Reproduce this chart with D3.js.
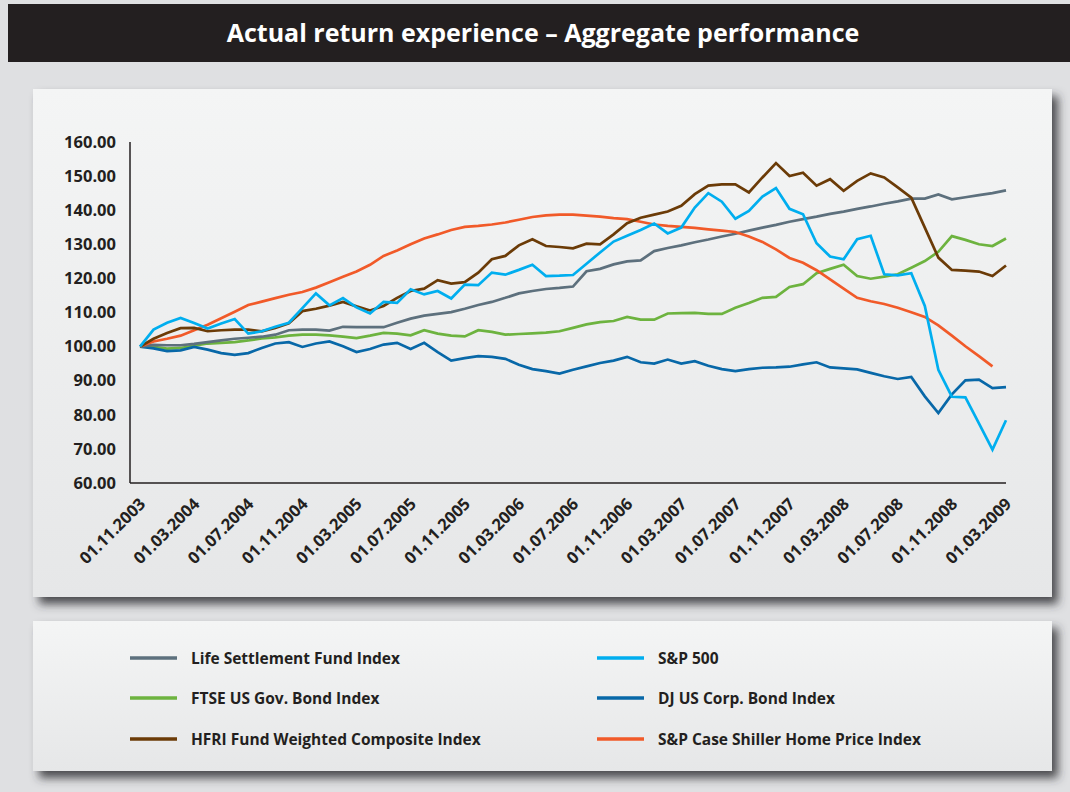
<!DOCTYPE html>
<html>
<head>
<meta charset="utf-8">
<script src="https://cdn.jsdelivr.net/npm/d3@7"></script>
<style>
  html, body { margin: 0; padding: 0; background: #dedfe1; }
  svg { display: block; font-family: "Open Sans", sans-serif; }
</style>
</head>
<body>
<svg id="chart" width="1070" height="792"></svg>
<script>
// monthly index values, 01.11.2003 .. 01.03.2009
const lifeSettlement = [100,100.5,100.4,100.4,100.8,101.3,101.8,102.3,102.6,102.9,
  103.5,104.8,105,105,104.7,105.8,105.7,105.7,105.7,107,
  108.2,109.1,109.6,110.1,111.1,112.2,113.1,114.3,115.6,116.3,
  116.9,117.2,117.6,122.1,122.8,124.1,125,125.3,128,128.9,
  129.7,130.6,131.4,132.3,133.1,134,134.9,135.7,136.6,137.4,
  138.1,138.9,139.6,140.4,141.1,141.9,142.6,143.4,143.4,144.6,
  143.2,143.8,144.4,145,145.8];
const sp500 = [100,105,107,108.4,106.9,105.3,106.8,108.1,103.8,104.5,
  105.8,107,111.3,115.6,112.1,114.2,111.5,109.7,113.1,112.8,
  116.8,115.3,116.3,114.1,118.2,118,121.7,121.1,122.5,124,
  120.7,120.8,121,124.3,127.6,130.8,132.5,134.2,136.1,133.2,
  134.9,140.8,145,142.5,137.5,139.8,144,146.5,140.4,138.8,
  130.3,126.4,125.6,131.5,132.5,121.2,120.9,121.5,111.9,93.2,
  85.3,85.1,77.5,69.8,78.4];
const ftseGov = [100,99.9,99.4,99.6,100.3,100.9,101.1,101.3,101.8,102.4,
  102.7,103.2,103.5,103.5,103.3,102.9,102.5,103.2,104,103.8,
  103.3,104.8,103.8,103.2,103,104.8,104.3,103.5,103.7,103.9,
  104.1,104.5,105.5,106.5,107.2,107.5,108.7,107.9,107.9,109.7,
  109.8,109.9,109.6,109.6,111.4,112.8,114.3,114.6,117.5,118.3,
  121.5,122.8,124,120.7,119.9,120.5,121.2,123.1,125.1,127.8,
  132.4,131.3,130,129.5,131.7];
const djCorp = [100,99.5,98.7,98.9,99.9,99.1,98.1,97.6,98.1,99.6,
  100.9,101.3,99.9,100.9,101.5,100.1,98.4,99.3,100.6,101.1,
  99.3,101.1,98.4,95.9,96.6,97.2,97,96.4,94.7,93.4,
  92.8,92.1,93.2,94.2,95.2,95.9,97,95.4,95,96.2,
  95,95.7,94.4,93.4,92.8,93.4,93.8,93.9,94.1,94.8,
  95.4,93.9,93.6,93.3,92.3,91.3,90.5,91.1,85.4,80.5,
  86,90.1,90.3,87.8,88.1];
const hfri = [100,102.3,104,105.4,105.5,104.5,104.8,105,105,104.5,
  105.5,106.8,110.4,111.1,112,113.1,111.8,110.6,111.9,114.3,
  116.3,117,119.5,118.5,118.9,121.7,125.6,126.6,129.7,131.5,
  129.5,129.2,128.8,130.2,130,132.9,136.2,137.8,138.7,139.6,
  141.3,144.7,147.2,147.6,147.6,145.2,149.6,153.8,150,151,
  147.2,149.1,145.7,148.6,150.8,149.6,146.7,143.7,134.9,126.1,
  122.5,122.3,122,120.7,123.8];
const caseShiller = [100,101.5,102.3,103.2,104.8,106.4,108.3,110.2,112.2,113.2,
  114.2,115.2,116,117.3,118.9,120.5,122,124,126.6,128.2,
  130,131.7,132.9,134.2,135.1,135.4,135.8,136.4,137.2,138,
  138.5,138.7,138.7,138.4,138.1,137.7,137.4,136.6,135.8,135.4,
  135.1,134.8,134.4,134,133.6,132.3,130.7,128.5,126,124.6,
  122.4,119.7,117,114.3,113.3,112.5,111.4,110.1,108.7,106.2,
  103.2,100.1,97.2,94.2];

const yTicks = [60, 70, 80, 90, 100, 110, 120, 130, 140, 150, 160];
const xTickLabels = ["01.11.2003","01.03.2004","01.07.2004","01.11.2004","01.03.2005",
  "01.07.2005","01.11.2005","01.03.2006","01.07.2006","01.11.2006","01.03.2007",
  "01.07.2007","01.11.2007","01.03.2008","01.07.2008","01.11.2008","01.03.2009"];

const seriesNames = ["Life Settlement Fund Index", "S&P 500", "FTSE US Gov. Bond Index",
  "DJ US Corp. Bond Index", "HFRI Fund Weighted Composite Index", "S&P Case Shiller Home Price Index"];
const seriesColors = ["#5d707d", "#00aeef", "#6db33f", "#0868a8", "#6b3b07", "#f15a29"];
const seriesValues = [lifeSettlement, sp500, ftseGov, djCorp, hfri, caseShiller];

const svg = d3.select("#chart");
const W = 1070, H = 792;

const defs = svg.append("defs");
const grad = defs.append("linearGradient").attr("id", "panelGrad")
  .attr("x1", 0).attr("y1", 0).attr("x2", 0).attr("y2", 1);
grad.append("stop").attr("offset", "0%").attr("stop-color", "#f4f5f5");
grad.append("stop").attr("offset", "100%").attr("stop-color", "#e6e7e8");
const shadow = defs.append("filter").attr("id", "shadow")
  .attr("x", "-5%").attr("y", "-5%").attr("width", "112%").attr("height", "120%");
shadow.append("feDropShadow").attr("dx", 6).attr("dy", 7).attr("stdDeviation", 5)
  .attr("flood-color", "#333336").attr("flood-opacity", 0.85);

// background + title bar
svg.append("rect").attr("width", W).attr("height", H).attr("fill", "#dfe0e2");
svg.append("rect").attr("x", 8).attr("y", 4).attr("width", W - 8).attr("height", 58).attr("fill", "#231f20");
svg.append("text").attr("x", 543).attr("y", 42).attr("text-anchor", "middle")
  .attr("fill", "#fff").attr("font-size", 25).attr("font-weight", 700)
  .text("Actual return experience – Aggregate performance");

// panels
svg.append("rect").attr("x", 33).attr("y", 89).attr("width", 1019).attr("height", 508)
  .attr("fill", "url(#panelGrad)").attr("filter", "url(#shadow)");
svg.append("rect").attr("x", 33).attr("y", 621).attr("width", 1019).attr("height", 150)
  .attr("fill", "url(#panelGrad)").attr("filter", "url(#shadow)");

// scales
const months = d3.range(lifeSettlement.length);
const x = d3.scaleLinear().domain([0, months.length - 1]).range([140, 1006]);
const y = d3.scaleLinear().domain([60, 160]).range([483, 142]);

// axes (labels only, lines drawn separately)
const yAxis = d3.axisLeft(y).tickValues(yTicks).tickSize(0).tickPadding(0)
  .tickFormat(d => d3.format(".2f")(d));
const gy = svg.append("g").attr("transform", "translate(116,0)").call(yAxis);
gy.select(".domain").remove();
gy.selectAll("text").attr("font-size", 16.5).attr("font-weight", 700)
  .attr("fill", "#231f20").attr("font-family", "Open Sans, sans-serif");

const xAxis = d3.axisBottom(x).tickValues(d3.range(0, months.length, 4)).tickSize(0)
  .tickFormat((d, i) => xTickLabels[i]);
const gx = svg.append("g").attr("transform", "translate(0,483)").call(xAxis);
gx.select(".domain").remove();
gx.selectAll("text").attr("font-size", 16.5).attr("font-weight", 700)
  .attr("fill", "#231f20").attr("font-family", "Open Sans, sans-serif")
  .attr("text-anchor", "end").attr("dy", null).attr("y", 0)
  .attr("transform", "translate(6,22) rotate(-45)");

svg.append("line").attr("x1", 130).attr("x2", 130).attr("y1", 142).attr("y2", 483)
  .attr("stroke", "#231f20").attr("stroke-width", 1.5);
svg.append("line").attr("x1", 130).attr("x2", 1006).attr("y1", 483).attr("y2", 483)
  .attr("stroke", "#231f20").attr("stroke-width", 1.5);

// lines
const line = d3.line().x((d, i) => x(i)).y(d => y(d));
const drawOrder = [2, 3, 0, 5, 4, 1];
drawOrder.forEach(k => {
  svg.append("path").datum(seriesValues[k])
    .attr("d", line)
    .attr("fill", "none")
    .attr("stroke", seriesColors[k])
    .attr("stroke-width", 2.7)
    .attr("stroke-linejoin", "miter");
});

// legend
const legendPos = [[130, 658], [597, 658], [130, 698], [597, 698], [130, 739], [597, 739]];
const lg = svg.selectAll(".leg").data(seriesNames).join("g").attr("class", "leg")
  .attr("transform", (d, i) => `translate(${legendPos[i][0]},${legendPos[i][1]})`);
lg.append("line").attr("x1", 0).attr("x2", 47).attr("y1", 0).attr("y2", 0)
  .attr("stroke", (d, i) => seriesColors[i]).attr("stroke-width", 3.5);
lg.append("text").attr("x", 61).attr("y", 5.5).attr("font-size", 15.5).attr("font-weight", 700)
  .attr("fill", "#231f20").text(d => d);
</script>
</body>
</html>
